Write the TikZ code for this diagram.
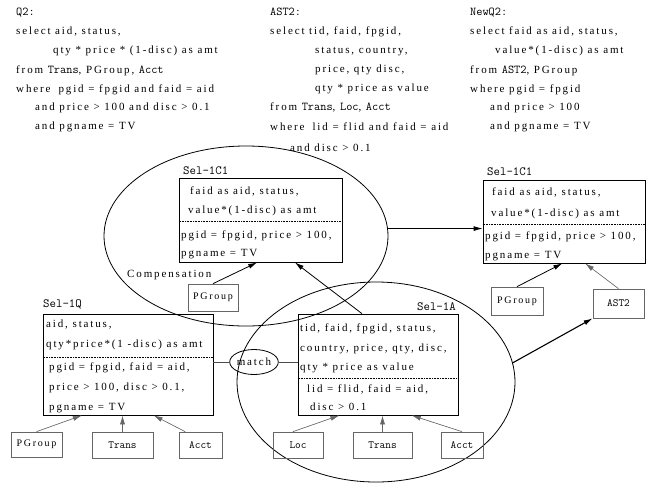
\documentclass[tikz,border=0pt]{standalone}
\usepackage{fontspec}
\setmainfont{Liberation Serif}[LetterSpace=17]
\usetikzlibrary{arrows.meta,shapes.geometric,calc}

% table and view names are set in the typewriter face
\newcommand{\tn}[1]{{\ttfamily\fontsize{12}{13}\selectfont #1}}

\tikzset{
  txt/.style={anchor=west, inner sep=0pt, text height=7pt, text depth=2pt,
              font=\fontsize{11}{13}\selectfont},
  hdr/.style={txt, font=\ttfamily\fontsize{12}{13}\selectfont},
  sellabel/.style={txt, font=\ttfamily\fontsize{12.5}{14}\selectfont},
  selbox/.style={draw=black, line width=0.8pt, inner sep=0pt},
  tblbox/.style={draw=black!60, line width=0.7pt, inner sep=0pt,
                 font=\fontsize{10}{12}\selectfont},
  ttbox/.style={tblbox, font=\ttfamily\fontsize{11}{12}\selectfont},
  oval/.style={ellipse, draw=black, line width=0.8pt, inner sep=0pt},
  sep/.style={densely dotted, line width=0.6pt},
  mainarrow/.style={-{Latex[length=9pt,width=5pt]}, line width=0.8pt},
  childarrow/.style={-{Latex[length=9pt,width=5pt]}, draw=black!60, fill=black!60, line width=0.6pt},
}

\begin{document}
\begin{tikzpicture}[x=1pt,y=-1pt]
\useasboundingbox (0,0) rectangle (647,485);

% ---- query texts ----
\node[hdr] (q2h) at (16,13) {Q2:};
\node[txt] (q2a) at (16,32) {select aid, status,};
\node[txt] (q2b) at (53,51) {qty * price * (1-disc) as amt};
\node[txt] (q2c) at (16,71) {from \tn{Trans}, PGroup, \tn{Acct}};
\node[txt] (q2d) at (16,90) {where\hspace{8pt}pgid = fpgid and faid = aid};
\node[txt] (q2e) at (35,108) {and price > 100 and disc > 0.1};
\node[txt] (q2f) at (35,127) {and pgname = TV};

\node[hdr] (ah) at (270,13) {AST2:};
\node[txt] (aa) at (270,32) {select tid, faid, fpgid,};
\node[txt] (ab) at (315,51) {status, country,};
\node[txt] (ac) at (315,70) {price, qty disc,};
\node[txt] (ad) at (315,89) {qty * price as value};
\node[txt] (ae) at (270,108) {from \tn{Trans}, \tn{Loc}, \tn{Acct}};
\node[txt] (af) at (270,128) {where\hspace{8pt}lid = flid and faid = aid};
\node[txt] (ag) at (290,149) {and disc > 0.1};

\node[hdr] (nh) at (470,13) {NewQ2:};
\node[txt] (na) at (470,32) {select faid as aid, status,};
\node[txt] (nb) at (495,51) {value*(1-disc) as amt};
\node[txt] (nc) at (470,71) {from \tn{AST2}, PGroup};
\node[txt] (nd) at (470,90) {where pgid = fpgid};
\node[txt] (ne) at (490,108) {and price > 100};
\node[txt] (nf) at (490,127) {and pgname = TV};

% ---- grouping ovals ----
\node[oval, minimum width=284pt, minimum height=180pt] (e1) at (246,236) {};
\node[oval, minimum width=278pt, minimum height=200pt] (e2) at (376,382) {};
\node[oval, minimum width=44pt, minimum height=25pt, font=\fontsize{11}{13}\selectfont] (match) at (254,362) {match};

% ---- Sel-1C1 (compensated, left) ----
\node[selbox, minimum width=163pt, minimum height=84pt] (c1l) at (260.5,220) {};
\node[sellabel] (c1lh) at (183,172) {Sel-1C1};
\node[txt] (c1la) at (190,192) {faid as aid, status,};
\node[txt] (c1lb) at (188,211) {value*(1-disc) as amt};
\node[txt] (c1lc) at (181,236) {pgid = fpgid, price > 100,};
\node[txt] (c1ld) at (181,254) {pgname = TV};
\draw[sep] (c1l.west |- 0,221) -- (c1l.east |- 0,221);

\node[txt] (comp) at (127,275) {Compensation};
\node[tblbox, minimum width=50pt, minimum height=27pt] (pgm) at (213,297.5) {PGroup};

% ---- Sel-1C1 (right) ----
\node[selbox, minimum width=162pt, minimum height=83pt] (c1r) at (564,221.5) {};
\node[sellabel] (c1rh) at (487,173) {Sel-1C1};
\node[txt] (c1ra) at (492,193) {faid as aid, status,};
\node[txt] (c1rb) at (491,214) {value*(1-disc) as amt};
\node[txt] (c1rc) at (485,237) {pgid = fpgid, price > 100,};
\node[txt] (c1rd) at (485,256) {pgname = TV};
\draw[sep] (c1r.west |- 0,224) -- (c1r.east |- 0,224);

\node[tblbox, minimum width=52pt, minimum height=28pt] (pgr) at (517,301) {PGroup};
\node[ttbox, minimum width=51pt, minimum height=29pt] (ast) at (618.5,303.5) {AST2};

% ---- Sel-1Q ----
\node[selbox, minimum width=170pt, minimum height=101pt] (s1q) at (128,364.5) {};
\node[sellabel] (s1qh) at (43,305) {Sel-1Q};
\node[txt] (s1qa) at (46,325) {aid, status,};
\node[txt] (s1qb) at (46,345) {qty*price*(1 -disc) as amt};
\node[txt] (s1qc) at (49,368) {pgid = fpgid, faid = aid,};
\node[txt] (s1qd) at (49,388) {price > 100, disc > 0.1,};
\node[txt] (s1qe) at (49,408) {pgname = TV};
\draw[sep] (s1q.west |- 0,357) -- (s1q.east |- 0,357);

\node[tblbox, minimum width=51pt, minimum height=25pt] (pgq) at (36.5,444.5) {PGroup};
\node[ttbox, minimum width=61pt, minimum height=26pt] (tq) at (122.5,445) {Trans};
\node[ttbox, minimum width=43pt, minimum height=26pt] (aq) at (200.5,445) {Acct};

% ---- Sel-1A ----
\node[selbox, minimum width=160pt, minimum height=101pt] (s1a) at (378,364.5) {};
\node[sellabel, anchor=east] (s1ah) at (456,308) {Sel-1A};
\node[txt] (s1aa) at (300,329) {tid, faid, fpgid, status,};
\node[txt] (s1ab) at (300,349) {country, price, qty, disc,};
\node[txt] (s1ac) at (300,368) {qty * price as value};
\node[txt] (s1ad) at (307,390) {lid = flid, faid = aid,};
\node[txt] (s1ae) at (310,408) {disc > 0.1};
\draw[sep] (s1a.west |- 0,378) -- (s1a.east |- 0,378);

\node[ttbox, minimum width=50pt, minimum height=26pt] (loc) at (298,445) {Loc};
\node[ttbox, minimum width=59pt, minimum height=26pt] (ta) at (382.5,445) {Trans};
\node[ttbox, minimum width=42pt, minimum height=26pt] (aa2) at (462,445) {Acct};

% ---- match links ----
\draw[line width=0.6pt, draw=black!70] (match.west) -- (match.west -| s1q.east);
\draw[line width=0.6pt, draw=black!70] (match.east) -- (match.east -| s1a.west);

% ---- main arrows ----
\draw[mainarrow] (e1.3) -- (e1.3 -| c1r.west);
\draw[mainarrow, line width=1.1pt] (e2.8) -- (ast.south west);
\draw[mainarrow] ($(s1a.north west)!0.4!(s1a.north east)$) -- ($(c1l.south west)!0.71!(c1l.south east)$);
\draw[mainarrow] (pgm.north) -- ($(c1l.south west)!0.48!(c1l.south east)$);
\draw[mainarrow] (pgr.north) -- ($(c1r.south west)!0.49!(c1r.south east)$);
\draw[childarrow] (ast.north) -- ($(c1r.south west)!0.63!(c1r.south east)$);

% ---- base table arrows ----
\draw[childarrow] (pgq.north) -- ($(s1q.south west)!0.23!(s1q.south east)$);
\draw[childarrow] (tq.north) -- (tq.north |- s1q.south);
\draw[childarrow] ($(aq.north west)!0.15!(aq.north east)$) -- ($(s1q.south west)!0.65!(s1q.south east)$);
\draw[childarrow] ($(loc.north west)!0.4!(loc.north east)$) -- ($(s1a.south west)!0.26!(s1a.south east)$);
\draw[childarrow] (ta.north) -- (ta.north |- s1a.south);
\draw[childarrow] (aa2.north) -- ($(s1a.south west)!0.71!(s1a.south east)$);
\end{tikzpicture}
\end{document}
